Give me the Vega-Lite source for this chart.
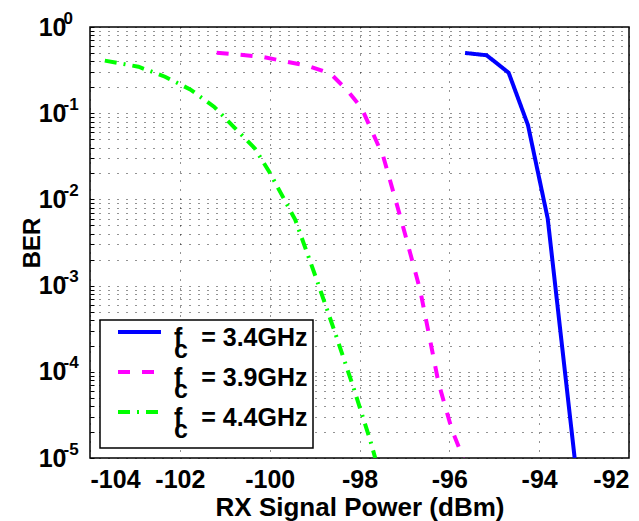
{
  "$schema": "https://vega.github.io/schema/vega-lite/v6.json",
  "width": 539,
  "height": 431,
  "autosize": {"type": "none"},
  "padding": {"left": 90, "top": 27, "right": 10, "bottom": 63},
  "background": "white",
  "data": {
    "values": [
      {"series": "3.4GHz", "x": -95.65, "ber": 0.50},
      {"series": "3.4GHz", "x": -95.17, "ber": 0.47},
      {"series": "3.4GHz", "x": -94.68, "ber": 0.295},
      {"series": "3.4GHz", "x": -94.25, "ber": 0.073},
      {"series": "3.4GHz", "x": -93.81, "ber": 0.006},
      {"series": "3.4GHz", "x": -93.21, "ber": 0.00001},
      {"series": "3.9GHz", "x": -101.18, "ber": 0.503},
      {"series": "3.9GHz", "x": -100.18, "ber": 0.452},
      {"series": "3.9GHz", "x": -99.14, "ber": 0.353},
      {"series": "3.9GHz", "x": -98.65, "ber": 0.29},
      {"series": "3.9GHz", "x": -98.28, "ber": 0.186},
      {"series": "3.9GHz", "x": -97.95, "ber": 0.114},
      {"series": "3.9GHz", "x": -97.47, "ber": 0.0313},
      {"series": "3.9GHz", "x": -97.06, "ber": 0.0055},
      {"series": "3.9GHz", "x": -96.65, "ber": 0.00089},
      {"series": "3.9GHz", "x": -96.24, "ber": 0.000074},
      {"series": "3.9GHz", "x": -95.94, "ber": 0.000021},
      {"series": "3.9GHz", "x": -95.69, "ber": 0.00001},
      {"series": "4.4GHz", "x": -103.67, "ber": 0.407},
      {"series": "4.4GHz", "x": -102.92, "ber": 0.346},
      {"series": "4.4GHz", "x": -102.33, "ber": 0.265},
      {"series": "4.4GHz", "x": -101.77, "ber": 0.189},
      {"series": "4.4GHz", "x": -101.24, "ber": 0.119},
      {"series": "4.4GHz", "x": -100.79, "ber": 0.0686},
      {"series": "4.4GHz", "x": -100.33, "ber": 0.039},
      {"series": "4.4GHz", "x": -99.99, "ber": 0.0201},
      {"series": "4.4GHz", "x": -99.43, "ber": 0.0058},
      {"series": "4.4GHz", "x": -98.95, "ber": 0.00116},
      {"series": "4.4GHz", "x": -98.54, "ber": 0.00028},
      {"series": "4.4GHz", "x": -98.14, "ber": 0.000067},
      {"series": "4.4GHz", "x": -97.76, "ber": 0.000016},
      {"series": "4.4GHz", "x": -97.65, "ber": 0.00001}
    ]
  },
  "encoding": {
    "x": {
      "field": "x", "type": "quantitative",
      "scale": {"domain": [-104, -92], "nice": false, "zero": false},
      "axis": {
        "title": "RX Signal Power (dBm)",
        "values": [-104, -102, -100, -98, -96, -94, -92],
        "labelExpr": "'' + datum.value",
        "labelFontSize": 25,
        "labelPadding": 9,
        "titleFontSize": 26,
        "titlePadding": 2
      }
    },
    "color": {
      "field": "series", "type": "nominal",
      "scale": {"domain": ["3.4GHz", "3.9GHz", "4.4GHz"], "range": ["#0000ff", "#ff00ff", "#00ff00"]},
      "legend": {
        "title": null,
        "labelExpr": "['f\u00a0\u00a0\u2009= ' + datum.label + '\u2009', '\u2009\u2009c']",
        "encode": {
          "labels": {"update": {"lineHeight": {"value": 12}}},
          "legend": {"update": {"strokeWidth": {"value": 1.5}}}
        }
      }
    },
    "strokeDash": {
      "field": "series", "type": "nominal",
      "scale": {"domain": ["3.4GHz", "3.9GHz", "4.4GHz"], "range": [[1, 0], [12, 12], [12, 7, 2, 7]]},
      "legend": {"title": null}
    }
  },
  "layer": [
    {
      "transform": [{"filter": "datum.series != '4.4GHz'"}],
      "mark": {"type": "line", "strokeWidth": 4, "clip": true, "strokeCap": "butt", "strokeJoin": "miter"},
      "encoding": {
        "y": {
          "field": "ber", "type": "quantitative",
          "scale": {"type": "log", "domain": [0.00001, 1], "nice": false},
          "axis": {
            "orient": "left",
            "title": "BER",
            "values": [0.00001, 0.00002, 0.00003, 0.00004, 0.00005, 0.00006, 0.00007, 0.00008, 0.00009,
                       0.0001, 0.0002, 0.0003, 0.0004, 0.0005, 0.0006, 0.0007, 0.0008, 0.0009,
                       0.001, 0.002, 0.003, 0.004, 0.005, 0.006, 0.007, 0.008, 0.009,
                       0.01, 0.02, 0.03, 0.04, 0.05, 0.06, 0.07, 0.08, 0.09,
                       0.1, 0.2, 0.3, 0.4, 0.5, 0.6, 0.7, 0.8, 0.9, 1],
            "labelExpr": "datum.value == 1 || datum.value == 0.1 || datum.value == 0.01 || datum.value == 0.001 || datum.value == 0.0001 || datum.value == 0.00001 ? '10' : ''",
            "labelFontSize": 25,
            "labelPadding": 28,
            "titleFontSize": 24,
            "titlePadding": -6,
            "ticks": true,
            "tickSize": -4,
            "tickColor": "black",
            "tickWidth": 1
          }
        }
      }
    },
    {
      "transform": [{"filter": "datum.series == '4.4GHz'"}],
      "mark": {"type": "line", "strokeWidth": 4, "clip": true, "strokeCap": "butt", "strokeJoin": "miter"},
      "encoding": {
        "y": {
          "field": "ber", "type": "quantitative",
          "axis": {
            "orient": "left",
            "title": null,
            "grid": false,
            "values": [1, 0.1, 0.01, 0.001, 0.0001, 0.00001],
            "labelExpr": "datum.value == 1 ? '0' : datum.value == 0.1 ? '-1' : datum.value == 0.01 ? '-2' : datum.value == 0.001 ? '-3' : datum.value == 0.0001 ? '-4' : '-5'",
            "labelFontSize": 17,
            "labelAlign": "left",
            "labelPadding": 27,
            "labelOffset": -9
          }
        }
      }
    }
  ],
  "resolve": {"axis": {"y": "independent"}},
  "config": {
    "font": "Liberation Sans",
    "view": {"stroke": "black", "strokeWidth": 1.5},
    "axis": {
      "labelFont": "Liberation Sans",
      "labelFontWeight": "bold",
      "labelColor": "black",
      "labelOverlap": false,
      "labelBound": false,
      "titleFont": "Liberation Sans",
      "titleFontWeight": "bold",
      "titleColor": "black",
      "ticks": false,
      "domain": false,
      "grid": true,
      "gridColor": "black",
      "gridDash": [1, 8],
      "gridOpacity": 0.85,
      "gridWidth": 1
    },
    "legend": {
      "orient": "bottom-left",
      "offset": 10,
      "padding": 5,
      "strokeColor": "black",
      "fillColor": "white",
      "symbolType": "M0,-0.56H4",
      "symbolSize": 462,
      "symbolStrokeWidth": 4,
      "labelFont": "Liberation Sans",
      "labelFontSize": 25,
      "labelFontWeight": "bold",
      "labelColor": "black",
      "labelOffset": 43,
      "labelLimit": 400,
      "rowPadding": 0
    }
  }
}
